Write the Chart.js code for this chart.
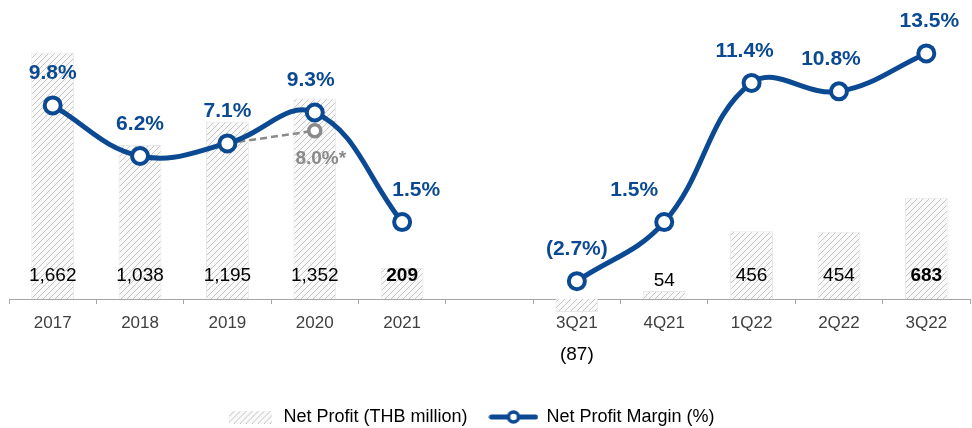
<!DOCTYPE html>
<html>
<head>
<meta charset="utf-8">
<script src="https://cdn.jsdelivr.net/npm/chart.js@4.4.0/dist/chart.umd.min.js"></script>
<style>
    html, body { margin: 0; padding: 0; background: #fff; }
    #wrap { width: 972px; height: 428px; }
</style>
</head>
<body>
<div id="wrap"><canvas id="profit-chart"></canvas></div>
<script>
const categories = ['2017', '2018', '2019', '2020', '2021', '', '3Q21', '4Q21', '1Q22', '2Q22', '3Q22'];
const netProfit = [1662, 1038, 1195, 1352, 209, null, -87, 54, 456, 454, 683];
const netProfitMargin = [9.8, 6.2, 7.1, 9.3, 1.5, null, -2.7, 1.5, 11.4, 10.8, 13.5];
const adjustedMargin = [null, null, 7.1, 8.0, null, null, null, null, null, null, null];
const adjustedMarginLabel = '8.0%*';
const boldProfit = ['2021', '3Q22'];

// small horizontal nudges for the % labels, as in the original
const marginLabelShift = [0, 0, 0, -4, 14, 0, 0, -30, -7, -8, 3];

const blue = '#0B4A92';
const grey = '#8a8a8a';
const fontFamily = 'Arial, "Liberation Sans", sans-serif';

function hatchCanvas() {
    const c = document.createElement('canvas');
    c.width = 6;
    c.height = 6;
    const g = c.getContext('2d');
    g.fillStyle = '#fafafa';
    g.fillRect(0, 0, 6, 6);
    g.strokeStyle = '#c4c4c4';
    g.lineWidth = 1;
    g.beginPath();
    g.moveTo(0, 6); g.lineTo(6, 0);
    g.moveTo(-1, 1); g.lineTo(1, -1);
    g.moveTo(5, 7); g.lineTo(7, 5);
    g.stroke();
    return c;
}
const hatchTile = hatchCanvas();
const hatch = document.createElement('canvas').getContext('2d').createPattern(hatchTile, 'repeat');

function barLegendIcon() {
    const c = document.createElement('canvas');
    c.width = 43;
    c.height = 13;
    const g = c.getContext('2d');
    g.fillStyle = g.createPattern(hatchTile, 'repeat');
    g.fillRect(0, 0, 43, 13);
    return c;
}

function lineLegendIcon() {
    const c = document.createElement('canvas');
    c.width = 50;
    c.height = 18;
    const g = c.getContext('2d');
    g.strokeStyle = blue;
    g.lineWidth = 5;
    g.lineCap = 'round';
    g.beginPath();
    g.moveTo(3, 9); g.lineTo(47, 9);
    g.stroke();
    g.beginPath();
    g.arc(25, 9, 5, 0, Math.PI * 2);
    g.fillStyle = '#fff';
    g.fill();
    g.lineWidth = 3.5;
    g.stroke();
    return c;
}

const lastAdjusted = adjustedMargin.length - 1 - [...adjustedMargin].reverse().findIndex(v => v !== null);

const valueLabels = {
    id: 'valueLabels',
    afterLayout(chart) {
        // legend sits a bit left of centre in the original
        chart.legend.left -= 19;
        chart.legend.right -= 19;
    },
    afterDatasetsDraw(chart) {
        const ctx = chart.ctx;
        const bars = chart.getDatasetMeta(2).data;
        const points = chart.getDatasetMeta(0).data;
        const adjusted = chart.getDatasetMeta(1).data;
        const base = chart.scales.y.getPixelForValue(0);
        ctx.save();
        ctx.textAlign = 'center';
        ctx.textBaseline = 'middle';

        bars.forEach((bar, i) => {
            const v = netProfit[i];
            if (v === null) return;
            const bold = boldProfit.includes(categories[i]);
            ctx.font = (bold ? 'bold ' : '') + '19px ' + fontFamily;
            ctx.fillStyle = '#000';
            if (v < 0) {
                ctx.fillText('(' + Math.abs(v) + ')', bar.x, chart.chartArea.bottom + 56);
            } else {
                ctx.fillText(v.toLocaleString('en-US'), bar.x, Math.max(base - 23, bar.y - 10));
            }
        });

        ctx.font = 'bold 21px ' + fontFamily;
        ctx.fillStyle = blue;
        points.forEach((pt, i) => {
            const v = netProfitMargin[i];
            if (v === null) return;
            const text = v < 0 ? '(' + Math.abs(v).toFixed(1) + '%)' : v.toFixed(1) + '%';
            ctx.fillText(text, pt.x + marginLabelShift[i], pt.y - 32);
        });

        const ap = adjusted[lastAdjusted];
        ctx.font = 'bold 19px ' + fontFamily;
        ctx.fillStyle = grey;
        ctx.fillText(adjustedMarginLabel, ap.x + 6, ap.y + 28);
        ctx.restore();
    }
};

new Chart(document.getElementById('profit-chart'), {
    data: {
        labels: categories,
        datasets: [
            {
                type: 'line',
                label: 'Net Profit Margin (%)',
                data: netProfitMargin,
                yAxisID: 'y2',
                order: 1,
                borderColor: blue,
                borderWidth: 5,
                tension: 0.4,
                spanGaps: false,
                pointRadius: 8,
                pointBorderWidth: 4,
                pointBackgroundColor: '#fff',
                pointBorderColor: blue,
                clip: false
            },
            {
                type: 'line',
                label: 'Adjusted margin',
                data: adjustedMargin,
                yAxisID: 'y2',
                order: 2,
                borderColor: grey,
                borderWidth: 2.5,
                borderDash: [7, 4],
                tension: 0,
                pointRadius: ctx => ctx.dataIndex === lastAdjusted ? 6 : 0,
                pointBorderWidth: 3.5,
                pointBackgroundColor: '#fff',
                pointBorderColor: grey,
                clip: false
            },
            {
                type: 'bar',
                label: 'Net Profit (THB million)',
                data: netProfit,
                yAxisID: 'y',
                order: 3,
                backgroundColor: hatch,
                borderColor: '#e8e8e8',
                borderWidth: 1,
                barPercentage: 0.49,
                categoryPercentage: 1,
                clip: false
            }
        ]
    },
    options: {
        responsive: true,
        maintainAspectRatio: false,
        animation: false,
        devicePixelRatio: 1,
        layout: {autoPadding: false, padding: {left: 9, right: 2, top: 0, bottom: -8}},
        scales: {
            x: {
                offset: true,
                grid: {display: true, drawOnChartArea: false, drawTicks: true, tickLength: 5, color: '#a6a6a6', offset: true},
                border: {display: true, color: '#a6a6a6', width: 1},
                ticks: {color: '#404040', font: {size: 17, family: fontFamily}, padding: 9, maxRotation: 0, autoSkip: false},
                afterFit(scale) {
                    scale.height = 87;
                }
            },
            y: {display: false, min: 0, max: 2016},
            y2: {display: false, min: -3.97, max: 17.3}
        },
        plugins: {
            tooltip: {enabled: false},
            legend: {
                position: 'bottom',
                labels: {
                    usePointStyle: true,
                    pointStyleWidth: 48,
                    padding: 22,
                    color: '#000',
                    font: {size: 18, family: fontFamily},
                    generateLabels() {
                        return [
                            {text: 'Net Profit (THB million)', pointStyle: barLegendIcon(), datasetIndex: 2, hidden: false, lineWidth: 0, fontColor: '#000'},
                            {text: 'Net Profit Margin (%)', pointStyle: lineLegendIcon(), datasetIndex: 0, hidden: false, lineWidth: 0, fontColor: '#000'}
                        ];
                    }
                }
            }
        }
    },
    plugins: [valueLabels]
});
</script>
</body>
</html>
